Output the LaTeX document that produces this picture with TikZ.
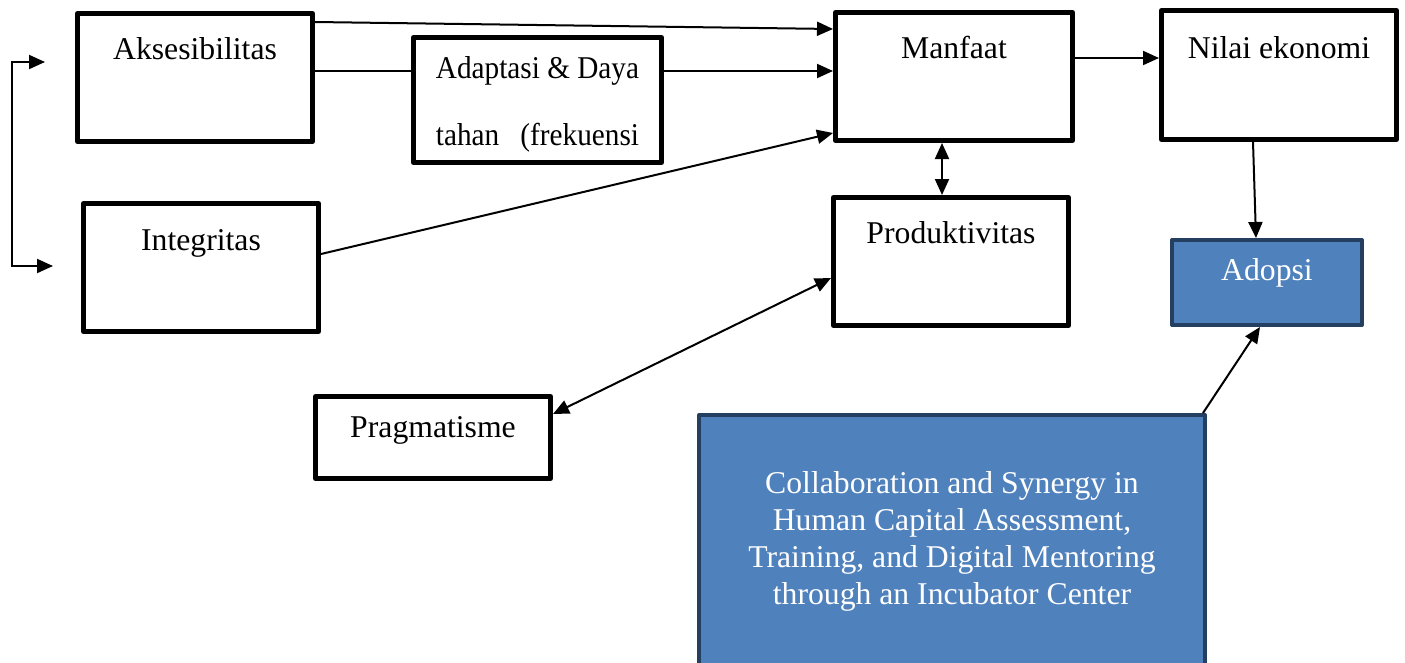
\documentclass[tikz,border=0pt]{standalone}
\usepackage{fontspec}
\setmainfont{Liberation Serif}
\usepackage{xcolor}
\usepackage{graphicx}
\usepackage{tikz}
\usetikzlibrary{arrows.meta}
\definecolor{adoptfill}{HTML}{4F81BD}
\definecolor{adoptline}{HTML}{243F60}
\newcommand{\boxfont}{\fontsize{31.7}{38}\selectfont}
\newcommand{\narrow}[1]{\scalebox{0.923}[1]{#1}}
\tikzset{
  box/.style={draw=black, fill=white, line width=5pt, line join=round,
              inner sep=0pt, minimum width=235, minimum height=128},
  bluebox/.style={box, draw=adoptline, fill=adoptfill, line width=4pt},
  txt/.style={anchor=base, yshift=-#1, font=\boxfont},
  txt/.default=48pt,
  arr/.style={line width=2pt, -{Triangle[length=16pt,width=14pt]}},
  darr/.style={line width=2pt, {Triangle[length=16pt,width=14pt]}-{Triangle[length=16pt,width=14pt]}}}

\begin{document}
\begin{tikzpicture}[x=1pt, y=-1pt]
  \clip (0,0) rectangle (1405,662);
  % left column
  \node[box, label={[txt]north:Aksesibilitas}] (aks) at (195,77.5) {};
  \node[box, label={[txt=49pt]north:Integritas}] (integ) at (201,267.5) {};
  % base of a two-line label sits on its last line
  \node[box, minimum width=248, minimum height=125,
        label={[txt=110pt, align=center, font=\fontsize{31.7}{67}\selectfont]north:{\narrow{Adaptasi \& Daya}\\\narrow{\hbox to 220pt{tahan\hfill(frekuensi}}}}] (adap) at (537.5,100) {};
  \node[box, minimum height=82, label={[txt=43pt]north:Pragmatisme}] (prag) at (433,437.5) {};
  % middle and right
  \node[box, minimum width=237, label={[txt]north:Manfaat}] (manf) at (954,76.5) {};
  \node[box, label={[txt]north:Produktivitas}] (prod) at (951,261.5) {};
  \node[box, minimum height=129, label={[txt=50pt]north:Nilai ekonomi}] (nilai) at (1279,75) {};
  \node[bluebox, minimum width=190, minimum height=85,
        label={[txt=42pt, text=white]north:Adopsi}] (adop) at (1267,282.5) {};
  \node[bluebox, minimum width=506, minimum height=285,
        label={[txt=191pt, text=white, align=center, font=\fontsize{31.7}{37}\selectfont]north:{Collaboration and Synergy in\\Human Capital Assessment,\\Training, and Digital Mentoring\\through an Incubator Center}}] (collab) at (952,557.5) {};

  % bracket on the far left
  \coordinate (ka) at (45,62);
  \coordinate (kb) at (12,164);
  \coordinate (ki) at (53,266);
  \draw[darr] (ka) -| (kb) |- (ki);

  % connectors
  \draw[arr] ([yshift=-11pt]aks.north east) -- ([yshift=-19pt]manf.north west);
  \draw[line width=2pt] ([yshift=6.5pt]aks.east) -- ([yshift=29pt]adap.west);
  \draw[arr] ([yshift=29pt]adap.east) -- ([yshift=5.5pt]manf.west);
  \draw[arr] ([yshift=13.5pt]integ.east) -- ([yshift=-56.5pt]manf.west);
  \draw[arr] ([xshift=-5pt,yshift=18.5pt]manf.east) -- ([yshift=17pt]nilai.west);
  \draw[darr] ([xshift=-12pt]manf.south) -- ([xshift=-9pt]prod.north);
  \draw[arr] ([xshift=-26pt]nilai.south) -- ([xshift=-11pt]adop.north);
  \draw[darr] ([yshift=23.5pt]prag.east) -- ([yshift=-16.5pt]prod.west);
  \draw[arr] ([xshift=-4pt]collab.north east) -- ([xshift=-7pt]adop.south);
\end{tikzpicture}
\end{document}
